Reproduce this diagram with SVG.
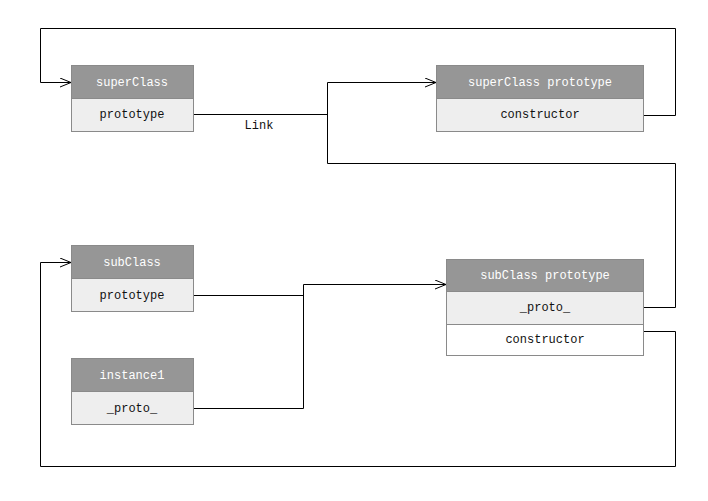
<svg xmlns="http://www.w3.org/2000/svg" width="708" height="501" viewBox="0 0 708 501">
<style>
.hd{fill:#969696;stroke:#8a8a8a;stroke-width:1}
.rw{fill:#eeeeee;stroke:#8a8a8a;stroke-width:1}
.rw2{fill:#ffffff;stroke:#8a8a8a;stroke-width:1}
text{font-family:"Liberation Mono","DejaVu Sans Mono",monospace;font-size:12px;text-anchor:middle;dominant-baseline:central}
.ht{fill:#ffffff}
.rt{fill:#111111}
.c{fill:none;stroke:#000;stroke-width:1}
</style>
<defs>
<marker id="a" markerWidth="12" markerHeight="10" refX="11" refY="5" orient="auto" markerUnits="userSpaceOnUse">
<path d="M0,0.5 L11,5 L0,9.5" fill="none" stroke="#000" stroke-width="1"/>
</marker>
</defs>
<rect width="708" height="501" fill="#fff"/>
<g id="connectors">
<path class="c" d="M643.5,115.5 H675.5 V28.5 H40.5 V82.5 H71" marker-end="url(#a)"/>
<path class="c" d="M193,114.5 H327.5"/>
<path class="c" d="M643.5,307.5 H675.5 V163.5 H327.5 V82.5 H436" marker-end="url(#a)"/>
<path class="c" d="M193,295.5 H303.5"/>
<path class="c" d="M193,408.5 H303.5 V284.5 H446" marker-end="url(#a)"/>
<path class="c" d="M643.5,331.5 H675.5 V466.5 H40.5 V262.5 H71" marker-end="url(#a)"/>
<text x="259" y="126" class="rt">Link</text>
</g>
<g id="superClass">
<rect class="hd" x="71.5" y="65.5" width="122" height="33"/>
<rect class="rw" x="71.5" y="98.5" width="122" height="33"/>
<text x="132" y="82.5" class="ht">superClass</text>
<text x="132" y="115" class="rt">prototype</text>
</g>
<g id="superClassPrototype">
<rect class="hd" x="436.5" y="65.5" width="207" height="33"/>
<rect class="rw" x="436.5" y="98.5" width="207" height="33"/>
<text x="540" y="82.5" class="ht">superClass prototype</text>
<text x="540" y="115" class="rt">constructor</text>
</g>
<g id="subClass">
<rect class="hd" x="71.5" y="245.5" width="122" height="33"/>
<rect class="rw" x="71.5" y="278.5" width="122" height="33"/>
<text x="132" y="262.5" class="ht">subClass</text>
<text x="132" y="296" class="rt">prototype</text>
</g>
<g id="instance1">
<rect class="hd" x="71.5" y="358.5" width="122" height="33"/>
<rect class="rw" x="71.5" y="391.5" width="122" height="33"/>
<text x="132" y="375.5" class="ht">instance1</text>
<text x="132" y="409" class="rt">_proto_</text>
</g>
<g id="subClassPrototype">
<rect class="hd" x="446.5" y="259.5" width="197" height="32"/>
<rect class="rw" x="446.5" y="291.5" width="197" height="33"/>
<rect class="rw2" x="446.5" y="324.5" width="197" height="31"/>
<text x="545" y="275.5" class="ht">subClass prototype</text>
<text x="545" y="308" class="rt">_proto_</text>
<text x="545" y="340" class="rt">constructor</text>
</g>
</svg>
